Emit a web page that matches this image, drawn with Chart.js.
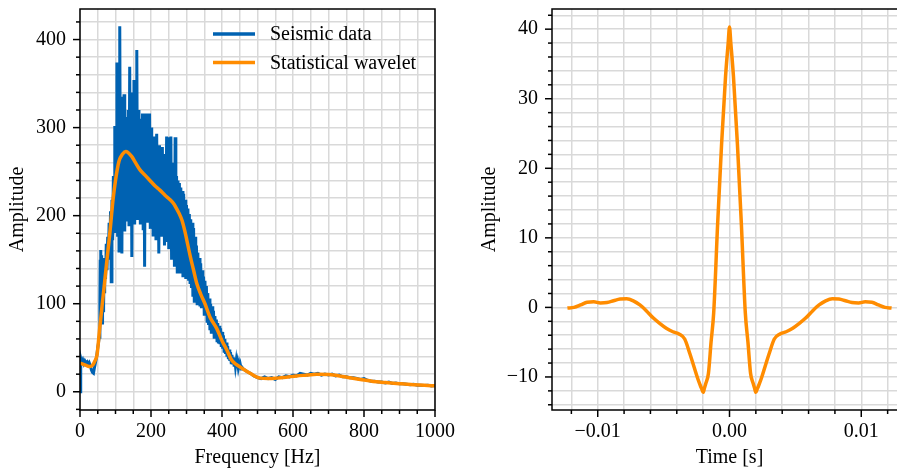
<!DOCTYPE html>
<html lang="en">
<head>
<meta charset="UTF-8">
<title>Seismic spectrum and statistical wavelet</title>
<script src="https://cdn.jsdelivr.net/npm/chart.js@4.4.0/dist/chart.umd.min.js"></script>
<style>
  html, body { margin: 0; padding: 0; background: #fff; overflow: hidden; }
  #wrap { position: relative; width: 897px; height: 471px; overflow: hidden; }
  #spec { position: absolute; left: 0; top: 0; }
  #wav { position: absolute; left: 470px; top: 0; }
</style>
</head>
<body>
<div id="wrap">
  <canvas id="spec" width="470" height="471"></canvas>
  <canvas id="wav" width="440" height="471"></canvas>
</div>
<script>
// amplitude spectrum of the trace [Hz]
const seismicFreq = [
  0, 2, 5, 8, 11, 14, 17, 20, 23, 26, 29, 32, 35, 38, 41, 44, 47, 50,
  52, 54, 56, 57, 58, 59, 60, 61, 62, 63, 64, 65, 66, 67, 68, 69, 70, 72, 74, 76, 78, 80,
  82, 84, 86, 88, 90, 92, 94, 96, 98,
  100, 102, 104, 106, 108, 110, 112, 114, 116, 118,
  120, 122, 124, 126, 128, 130, 132, 134, 136, 138,
  140, 142, 144, 146, 148, 150, 152, 154, 156, 158,
  160, 162, 164, 166, 168, 170, 172, 174, 176, 178,
  180, 182, 184, 186, 188, 190, 192, 194, 196, 198,
  200, 202, 204, 206, 208, 210, 212, 214, 216, 218,
  220, 222, 224, 226, 228, 230, 232, 234, 236, 238,
  240, 242, 244, 246, 248, 250, 252, 254, 256, 258,
  260, 262, 264, 266, 268, 270, 272, 274, 276, 278,
  280, 282, 284, 286, 288, 290, 292, 294, 296, 298,
  300, 302, 304, 306, 308, 310, 312, 314, 316, 318,
  320, 322, 324, 326, 328, 330, 332, 334, 336, 338,
  340, 342, 344, 346, 348, 350, 352, 354, 356, 358,
  360, 362, 364, 366, 368, 370, 372, 374, 376, 378,
  380, 382, 384, 386, 388, 390, 392, 394, 396, 398,
  400, 402, 404, 406, 408, 410, 412, 414, 416, 418,
  420, 422, 424, 426, 428, 430, 432, 434, 436, 438,
  440, 442, 444, 446, 448, 450, 452, 454, 456,
  460, 470, 480, 490, 500, 510, 520, 530, 540, 550, 560, 570, 580, 590, 600, 610, 620, 630,
  640, 650, 660, 670, 680, 690, 700, 710, 720, 730, 740, 750, 760, 770, 780, 790, 800, 810,
  820, 830, 840, 850, 860, 870, 880, 890, 900, 910, 920, 930, 940, 950, 960, 970, 980, 990, 1000
];
const seismicAmp = [
  0, 38, 33, 36, 32, 35, 33, 34, 31, 33, 30, 25, 22, 21, 28, 34, 40, 50,
  55, 62, 100, 150, 161, 118, 155, 95, 78, 88, 112, 92, 125, 100, 140, 112, 152, 128, 168, 138, 176, 150,
  192, 158, 205, 125, 218, 172, 245, 182, 300,
  300, 190, 374, 176, 335, 160, 415, 198, 330, 157,
  335, 205, 338, 182, 300, 195, 312, 200, 320, 188,
  369, 205, 330, 153, 340, 198, 354, 190, 322, 208,
  388, 195, 320, 212, 310, 190, 300, 200, 316, 185,
  305, 142, 316, 198, 300, 192, 316, 205, 316, 185,
  300, 198, 285, 178, 290, 195, 280, 172, 293, 190,
  265, 157, 280, 185, 270, 176, 278, 188, 262, 166,
  270, 180, 290, 170, 289, 162, 270, 172, 290, 150,
  260, 175, 250, 142, 289, 160, 245, 136, 240, 165,
  237, 136, 232, 150, 228, 130, 225, 145, 218, 128,
  212, 140, 208, 126, 202, 124, 196, 118, 192, 108,
  186, 101, 176, 112, 166, 100, 158, 104, 152, 97,
  146, 95, 138, 98, 131, 88, 126, 90, 120, 80,
  112, 76, 106, 70, 100, 66, 97, 68, 92, 62,
  86, 61, 82, 58, 78, 55, 75, 54, 72, 51,
  68, 49, 64, 46, 60, 43, 56, 40, 52, 37,
  48, 35, 45, 33, 42, 31, 39, 30, 37, 29,
  35, 28, 33, 27, 31, 26, 30, 26, 28,
  26, 23, 21, 18, 16, 15, 17, 15, 16, 14, 17, 16, 18, 17, 19, 18, 21, 20,
  19, 21, 20, 21, 19, 20, 19, 20, 18, 19, 17, 17, 16, 16, 15, 14, 15, 13,
  12, 12, 11, 11, 10, 11, 9.5, 10, 9, 9, 8.5, 8, 8.5, 7.5, 7.5, 7, 7.5, 6.5, 7
];

// smooth wavelet spectrum
const waveletFreq = [
  0, 10, 20, 27, 35, 42, 48, 55, 62, 69, 76, 84, 93, 100, 110, 120, 129, 146, 155, 169,
  183, 197, 211, 225, 240, 254, 265, 272, 280, 287, 295, 301, 310, 320, 329, 340, 352, 366,
  385, 400, 413, 427, 440, 455, 479, 507, 530, 554, 580, 610, 640, 667, 700, 732, 760, 790,
  826, 860, 900, 940, 970, 1000
];
const waveletSpec = [
  32.5, 31, 29.5, 28.7, 30, 35, 42, 70, 97, 123, 150, 180, 218, 240, 262, 270, 273, 267, 261, 252,
  246, 240, 234, 229, 223, 218, 213, 208, 202, 195, 183, 172, 155, 138, 123, 111, 100, 85,
  72, 58, 48, 36, 31, 27, 21, 15.5, 15, 15.5, 16.5, 18, 19, 20, 19.5, 18, 16, 14,
  11.7, 10.5, 9.2, 8, 7.3, 6.8
];

// wavelet in time [s]
const wavTime = [
  -0.0123, -0.0118, -0.0113, -0.0108, -0.0103, -0.0098, -0.0093, -0.0088, -0.0083, -0.0078,
  -0.0073, -0.0068, -0.0063, -0.0058, -0.0053, -0.0048, -0.0043, -0.0038, -0.0034, -0.0030,
  -0.0027, -0.0024, -0.0022, -0.0021, -0.0020, -0.0019, -0.0018, -0.0016, -0.0014, -0.0012,
  -0.0009, -0.0006, -0.0003, -0.0001, 0,
  0.0001, 0.0003, 0.0006, 0.0009,
  0.0012, 0.0014, 0.0016, 0.0018, 0.0019, 0.0020, 0.0021, 0.0022, 0.0024, 0.0027,
  0.0030, 0.0034, 0.0038, 0.0043, 0.0048, 0.0053, 0.0058, 0.0063, 0.0068, 0.0073,
  0.0078, 0.0083, 0.0088, 0.0093, 0.0098, 0.0103, 0.0108, 0.0113, 0.0118, 0.0123
];
const wavAmp = [
  -0.1, 0.0, 0.35, 0.75, 0.8, 0.65, 0.7, 0.95, 1.2, 1.25,
  0.95, 0.35, -0.5, -1.5, -2.3, -3.0, -3.5, -3.85, -4.55, -6.7,
  -8.5, -10.3, -11.3, -11.75, -12.2, -11.6, -10.95, -9.5, -5.0, -0.8,
  12, 23.5, 33.2, 38, 40.3,
  38, 33.2, 23.5, 12,
  -0.8, -5.0, -9.5, -10.95, -11.6, -12.2, -11.75, -11.3, -10.3, -8.5,
  -6.7, -4.55, -3.85, -3.5, -3.0, -2.3, -1.5, -0.5, 0.35, 0.95,
  1.25, 1.2, 0.95, 0.7, 0.65, 0.8, 0.75, 0.35, 0.0, -0.1
];

const BLUE = '#0062b2';
const ORANGE = '#ff8c00';
const GRID = '#d9d9d9';

Chart.defaults.font.family = "'Liberation Serif', 'Times New Roman', serif";
Chart.defaults.font.size = 20;
Chart.defaults.color = '#000';

const pairs = (xs, ys) => xs.map((x, i) => ({ x: x, y: ys[i] }));
const isMult = (v, m) => Math.abs(v / m - Math.round(v / m)) < 1e-6;
const minus = s => s.replace('-', '\u2212');

// frame around the plot plus outward major/minor tick marks
const axisBox = {
  id: 'axisBox',
  afterDraw(chart, args, opts) {
    const { ctx, chartArea: a } = chart;
    ctx.save();
    ctx.strokeStyle = '#000';
    ctx.lineWidth = 1.5;
    [['x', opts.xMajor], ['y', opts.yMajor]].forEach(([id, major]) => {
      const s = chart.scales[id];
      s.ticks.forEach(t => {
        const len = isMult(t.value, major) ? 7 : 4;
        const p = s.getPixelForValue(t.value);
        ctx.beginPath();
        if (id === 'x') { ctx.moveTo(p, a.bottom); ctx.lineTo(p, a.bottom + len); }
        else { ctx.moveTo(a.left, p); ctx.lineTo(a.left - len, p); }
        ctx.stroke();
      });
    });
    ctx.strokeRect(a.left, a.top, a.right - a.left, a.bottom - a.top);
    ctx.restore();
  }
};

// matplotlib-like legend without a frame, placed inside the plot
const lineLegend = {
  id: 'lineLegend',
  afterDatasetsDraw(chart, args, opts) {
    if (!opts.show) return;
    const { ctx, chartArea: a } = chart;
    ctx.save();
    chart.data.datasets.forEach((ds, i) => {
      const y = a.top + opts.top + i * opts.gap;
      const x0 = a.left + opts.left;
      ctx.strokeStyle = ds.borderColor;
      ctx.lineWidth = 3.5;
      ctx.beginPath();
      ctx.moveTo(x0, y);
      ctx.lineTo(x0 + 42, y);
      ctx.stroke();
      ctx.fillStyle = '#000';
      ctx.font = "20px 'Liberation Serif'";
      ctx.textBaseline = 'middle';
      ctx.fillText(ds.label, x0 + 57, y + 1);
    });
    ctx.restore();
  }
};

function gridOpts() {
  return { color: GRID, lineWidth: 1.5, drawTicks: true, tickLength: 7, tickColor: 'rgba(0,0,0,0)' };
}

function fixX(h) {
  return s => { s.height = h; s.paddingLeft = 0; s.paddingRight = 0; };
}
function fixY(w) {
  return s => { s.width = w; s.paddingTop = 0; s.paddingBottom = 0; };
}

new Chart(document.getElementById('spec'), {
  type: 'line',
  data: {
    datasets: [
      {
        label: 'Seismic data',
        data: pairs(seismicFreq, seismicAmp),
        borderColor: BLUE,
        borderWidth: 3,
        pointRadius: 0,
        tension: 0,
        order: 2
      },
      {
        label: 'Statistical wavelet',
        data: pairs(waveletFreq, waveletSpec),
        borderColor: ORANGE,
        borderWidth: 3.5,
        pointRadius: 0,
        cubicInterpolationMode: 'monotone',
        order: 1
      }
    ]
  },
  options: {
    responsive: false,
    animation: false,
    events: [],
    layout: { padding: { left: 0, top: 9, right: 35, bottom: 0 } },
    plugins: {
      legend: { display: false },
      tooltip: { enabled: false },
      axisBox: { xMajor: 200, yMajor: 100 },
      lineLegend: { show: true, left: 133, top: 25, gap: 28.5 }
    },
    scales: {
      x: {
        type: 'linear', min: 0, max: 1000,
        grid: gridOpts(),
        border: { display: false },
        ticks: {
          stepSize: 50, autoSkip: false, maxRotation: 0, includeBounds: false, maxTicksLimit: 1000, padding: 3,
          callback: v => isMult(v, 200) ? String(v) : ''
        },
        title: { display: true, text: 'Frequency [Hz]', padding: { top: 0, bottom: 1 } },
        afterFit: fixX(61)
      },
      y: {
        type: 'linear', min: -20.7, max: 434.7,
        grid: gridOpts(),
        border: { display: false },
        ticks: {
          stepSize: 20, autoSkip: false, includeBounds: false, maxTicksLimit: 1000, padding: 7,
          callback: v => isMult(v, 100) ? String(v) : ''
        },
        title: { display: true, text: 'Amplitude', padding: { top: 6, bottom: 0 } },
        afterFit: fixY(80)
      }
    }
  },
  plugins: [axisBox, lineLegend]
});

new Chart(document.getElementById('wav'), {
  type: 'line',
  data: {
    datasets: [
      {
        label: 'Statistical wavelet',
        data: pairs(wavTime, wavAmp),
        borderColor: ORANGE,
        borderWidth: 3.5,
        pointRadius: 0,
        cubicInterpolationMode: 'monotone'
      }
    ]
  },
  options: {
    responsive: false,
    animation: false,
    events: [],
    layout: { padding: { left: 0, top: 9, right: 3, bottom: 0 } },
    plugins: {
      legend: { display: false },
      tooltip: { enabled: false },
      axisBox: { xMajor: 0.01, yMajor: 10 },
      lineLegend: { show: false }
    },
    scales: {
      x: {
        type: 'linear', min: -0.01347, max: 0.01347,
        grid: gridOpts(),
        border: { display: false },
        ticks: {
          stepSize: 0.002, autoSkip: false, maxRotation: 0, includeBounds: false, maxTicksLimit: 1000, padding: 3,
          callback: v => isMult(v, 0.01) ? minus((Math.round(v * 100) / 100).toFixed(2)) : ''
        },
        title: { display: true, text: 'Time [s]', padding: { top: 0, bottom: 1 } },
        afterFit: fixX(61)
      },
      y: {
        type: 'linear', min: -14.75, max: 42.9,
        grid: gridOpts(),
        border: { display: false },
        ticks: {
          stepSize: 2, autoSkip: false, includeBounds: false, maxTicksLimit: 1000, padding: 7,
          callback: v => isMult(v, 10) ? minus(String(Math.round(v))) : ''
        },
        title: { display: true, text: 'Amplitude', padding: { top: 8, bottom: 0 } },
        afterFit: fixY(82)
      }
    }
  },
  plugins: [axisBox, lineLegend]
});
</script>
</body>
</html>
